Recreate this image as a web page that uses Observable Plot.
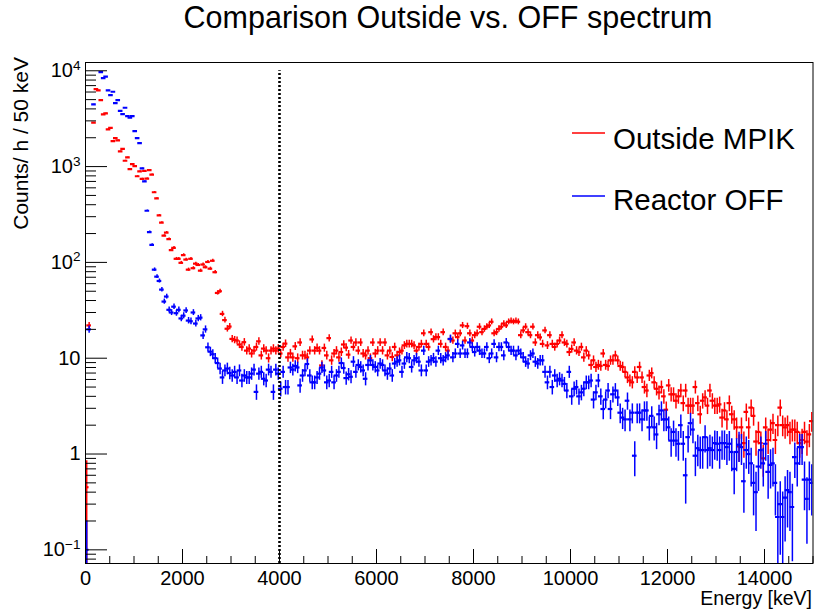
<!DOCTYPE html>
<html><head><meta charset="utf-8">
<script src="https://cdn.jsdelivr.net/npm/d3@7"></script>
<script src="https://cdn.jsdelivr.net/npm/@observablehq/plot@0.6"></script>
<style>
body{margin:0;background:#fff;}
#chart{position:relative;width:815px;height:611px;}
</style>
</head><body><div id="chart"></div>
<script>
// ---- data (counts per hour per 50 keV bin, bin i covers [50*i, 50*i+50) keV) ----
const binWidth = 50;
const outsideMPIK = [
0.45, 22, null, 2870, 6420, 6230, 4930, 3500, 3600, 2450,
2530, 1840, 1980, 1880, 1440, 1530, 1150, 1250, 940, 1060,
1010, 793, 890, 745, 900, 750, 920, 825, 540, 465,
310, 260, 190, 205, 175, 134, 142, 109, 109, 99,
119, 107, 84, 109, 87, 97, 94, 82, 95, 89,
101, 86, 104, 79, 48, 50, 29, 25, 20.3, 21.4,
15.9, 15.5, 15.3, 13.9, 13.1, 14.7, 12.0, 12.6, 11.2, 12.0,
13.1, 15.0, 10.7, 12.6, 12.0, 10.0, 12.0, 12.6, 12.0, 12.6,
11.2, 13.1, 14.2, 10.2, 11.2, 10.2, 13.3, 10.0, 14.6, 10.7,
10.7, 10.2, 12.0, 15.7, 12.0, 12.8, 12.0, 8.4, 12.8, 10.7,
16.2, 9.5, 11.2, 12.0, 10.2, 11.6, 13.9, 12.9, 10.9, 15.3,
13.1, 14.6, 12.0, 14.6, 11.2, 10.7, 12.0, 10.0, 14.6, 11.2,
12.0, 14.6, 12.0, 14.6, 10.7, 12.0, 10.3, 13.1, 10.7, 11.6,
12.0, 13.6, 14.1, 14.1, 14.1, 13.6, 12.0, 13.1, 14.1, 18.2,
14.1, 13.1, 18.7, 15.8, 16.6, 16.6, 14.1, 18.7, 13.1, 12.0,
15.8, 15.3, 18.2, 16.6, 18.2, 22.0, 15.3, 21.6, 18.2, 15.3,
17.4, 18.2, 21.3, 18.7, 20.2, 21.3, 22.0, 24.0, 18.2, 18.7,
20.2, 21.3, 23.0, 22.0, 24.0, 24.5, 24.0, 24.5, 24.0, 17.4,
19.5, 21.3, 18.7, 17.4, 21.3, 14.6, 17.4, 16.5, 14.1, 19.5,
13.6, 17.4, 14.1, 13.1, 14.1, 15.3, 17.4, 14.6, 14.1, 11.6,
12.5, 14.6, 12.0, 11.6, 13.1, 10.2, 12.0, 10.7, 8.5, 9.5,
8.1, 8.5, 8.3, 11.2, 8.5, 8.3, 9.5, 9.5, 10.7, 9.5,
8.3, 8.1, 7.2, 6.3, 5.85, 5.6, 7.2, 6.3, 8.1, 6.3,
5.0, 4.6, 6.6, 7.0, 5.6, 4.8, 4.4, 5.0, 4.0, 2.9,
5.2, 4.2, 4.2, 3.6, 4.0, 4.6, 3.4, 4.6, 3.2, 3.2,
3.2, 5.0, 3.4, 2.6, 3.6, 3.9, 3.2, 4.6, 3.6, 3.2,
3.2, 3.3, 2.4, 2.85, 2.3, 3.4, 2.6, 2.3, 1.9, 1.2,
1.9, 1.3, 2.75, 1.9, 3.05, 2.5, 1.35, 1.7, 1.3, 0.9,
1.9, 1.4, 1.8, 2.1, 1.4, 2.0, 3.05, 2.0, 1.9, 2.0,
1.7, 1.8, 1.8, 1.7, 1.3, 1.4, 1.7, 1.35, 1.6, 2.2
];
const reactorOFF = [
0.1, 20, null, 4450, null, null, 9660, 8370, 8700, 6230,
5560, 6040, 4590, 4930, 3820, 3520, 4110, 3360, 3250, 3360,
2340, 1980, 1760, 957, 700, 346, 207, 152, 84, 71,
64, 52, 39, 44, 32, 30, 34.5, 29.5, 32, 26,
27.8, 31.5, 24.7, 24.3, 30, 23, 26, 26.5, 17.3, 20,
13, 11.7, 11, 10, 8.9, 7.8, 6.3, 7.45, 7.8, 7.0,
6.6, 7.2, 6.3, 7.45, 5.85, 6.6, 6.3, 6.3, 6.9, 7.6,
4.45, 6.9, 7.2, 6.1, 5.85, 7.6, 7.2, 4.45, 7.6, 6.9,
4.8, 7.2, 5.0, 5.0, 8.0, 7.6, 8.3, 8.0, 5.2, 6.6,
7.45, 8.7, 6.6, 5.6, 5.6, 6.3, 6.9, 8.0, 7.45, 5.6,
5.85, 7.2, 5.6, 6.6, 7.2, 8.9, 7.9, 6.2, 6.8, 6.4,
9.2, 7.2, 8.5, 8.1, 7.45, 6.1, 8.5, 9.5, 8.5, 8.1,
7.45, 8.8, 8.5, 7.45, 6.9, 7.8, 6.6, 8.8, 9.2, 9.5,
7.2, 8.8, 10.2, 10.0, 8.1, 9.5, 10.0, 9.2, 7.45, 12.0,
7.45, 9.2, 9.5, 10.0, 9.2, 12.0, 10.0, 9.5, 10.2, 10.7,
15.9, 10.2, 11.2, 14.1, 11.2, 13.6, 11.2, 11.2, 14.6, 13.1,
11.6, 13.1, 12.0, 11.2, 11.2, 13.1, 10.0, 11.2, 14.1, 10.2,
13.1, 13.1, 10.7, 14.6, 13.1, 12.0, 12.0, 10.7, 12.0, 11.2,
10.2, 9.2, 8.8, 10.7, 11.2, 9.2, 8.8, 9.5, 9.5, 7.2,
5.6, 7.2, 5.0, 6.6, 5.85, 6.1, 5.85, 5.4, 4.6, 7.2,
4.0, 4.8, 5.0, 4.0, 4.4, 4.8, 5.6, 5.6, 5.85, 3.7,
4.4, 5.85, 4.0, 2.95, 3.7, 4.6, 2.95, 4.2, 4.6, 3.9,
2.7, 2.4, 2.3, 3.6, 2.3, 2.7, 0.96, 2.7, 2.7, 2.3,
2.85, 2.85, 1.9, 2.5, 1.9, 1.6, 2.6, 2.85, 2.3, 2.3,
1.9, 1.38, 1.7, 1.38, 1.28, 2.0, 1.28, 0.6, 1.5, 2.1,
1.8, 0.96, 1.15, 1.1, 1.1, 1.5, 1.1, 1.15, 1.1, 1.3,
1.28, 1.1, 1.3, 1.3, 1.18, 1.28, 1.05, 0.7, 1.05, 1.25,
1.18, 0.52, 1.1, 1.0, 0.8, 0.5, 0.4, 0.74, 1.1, 0.8,
1.28, 0.65, 0.77, 0.8, 0.5, 0.22, 0.3, 0.22, 0.35, 0.42,
0.4, 0.28, 0.93, 0.8, 1.18, 1.18, 0.54, 0.34, 0.54, 0.5
];
// Poisson-like error scale (err = sqrt(value * scale)), first bin read directly
const errorScale = {outside: 0.12, off: 0.15};
const firstBinError = {outside: 0.4, off: 0.1};
const seriesNames = ["Outside MPIK", "Reactor OFF"];
const seriesColors = ["#ff0000", "#0000ff"];
const cutEnergy = 4000;       // dotted line position (keV)
const cutTop = 1e4;           // dotted line top (counts)
const xDomain = [0, 15000];
const yDomain = [0.072, 12200];
const xTicks = [0, 2000, 4000, 6000, 8000, 10000, 12000, 14000];
const yTicks = [0.1, 1, 10, 100, 1000, 10000];
const yTickBase = ["10", "1", "10", "10", "10", "10"];
const yTickExp = ["\u22121", "", "", "2", "3", "4"];
const titleText = "Comparison Outside vs. OFF spectrum";
const xLabel = "Energy [keV]";
const yLabel = "Counts/ h / 50 keV";

// ---- layout ----
const W = 815, H = 611, mL = 85, mR = 2.5, mT = 62, mB = 48;
const frameW = W - mL - mR, frameH = H - mT - mB;
const font = "'Liberation Sans', Arial, Helvetica, sans-serif";

function rows(counts, key) {
  const out = [];
  counts.forEach((v, i) => {
    if (v == null) return;
    const err = i === 0 ? firstBinError[key] : Math.sqrt(v * errorScale[key]);
    out.push({lo: i * binWidth, hi: (i + 1) * binWidth, x: (i + 0.5) * binWidth,
      v, y1: Math.max(v - err, 1e-4), y2: v + err});
  });
  return out;
}
const red = rows(outsideMPIK, "outside");
const blue = rows(reactorOFF, "off");

const xMinor = d3.range(xDomain[0], xDomain[1] + 1, 500).filter(d => !xTicks.includes(d));
const yMinor = [];
for (let e = -2; e <= 4; e++) for (let m = 2; m <= 9; m++) {
  const v = m * Math.pow(10, e);
  if (v > yDomain[0] && v < yDomain[1]) yMinor.push(v);
}

function histMarks(data, color) {
  return [
    Plot.ruleX(data, {x: "x", y1: "y1", y2: "y2", stroke: color, strokeWidth: 1.5, clip: true}),
    Plot.ruleY(data, {y: "v", x1: "lo", x2: "hi", stroke: color, strokeWidth: 2.2, strokeLinecap: "square", clip: true})
  ];
}

const chart = Plot.plot({
  width: W, height: H,
  marginLeft: mL, marginRight: mR, marginTop: mT, marginBottom: mB,
  style: {fontFamily: font, background: "white", color: "black"},
  x: {domain: xDomain},
  y: {type: "log", domain: yDomain},
  marks: [
    ...histMarks(red, seriesColors[0]),
    ...histMarks(blue, seriesColors[1]),
    Plot.ruleX([cutEnergy], {x: d => d, y1: yDomain[0], y2: cutTop, stroke: "black", strokeWidth: 2.6, strokeDasharray: "2,2"}),
    Plot.tickY(yTicks, {y: d => d, insetRight: frameW - 22, stroke: "black"}),
    Plot.tickY(yMinor, {y: d => d, insetRight: frameW - 11, stroke: "black"}),
    Plot.tickX(xTicks, {x: d => d, insetTop: frameH - 14, stroke: "black"}),
    Plot.tickX(xMinor, {x: d => d, insetTop: frameH - 7, stroke: "black"}),
    Plot.axisY({ticks: yTicks, tickSize: 0, tickPadding: 5, fontSize: 20, label: null,
      tickFormat: d => { const k = yTicks.indexOf(d); return yTickBase[k] + (yTickExp[k] ? "^" + yTickExp[k] : ""); }}),
    Plot.axisX({ticks: xTicks, tickSize: 0, tickPadding: 7, fontSize: 20, label: null, tickFormat: "d"}),
    Plot.frame({stroke: "black"})
  ]
});
document.getElementById("chart").appendChild(chart);

const svg = d3.select(chart);
// superscript exponents on the log-axis labels
svg.selectAll("text").each(function() {
  const t = d3.select(this);
  if (this.childElementCount === 0 && this.textContent.includes("^")) {
    const [base, exp] = this.textContent.split("^");
    t.text(base);
    t.append("tspan").attr("dy", "-0.55em").attr("font-size", "0.68em").text(exp);
  }
});
svg.append("text").attr("x", 448).attr("y", 28).attr("text-anchor", "middle")
  .attr("font-family", font).attr("font-size", 30.5).attr("fill", "black").text(titleText);
svg.append("text").attr("x", 812).attr("y", 605).attr("text-anchor", "end")
  .attr("font-family", font).attr("font-size", 19.5).attr("fill", "black").text(xLabel);
svg.append("text").attr("transform", "translate(28,57) rotate(-90)").attr("text-anchor", "end")
  .attr("font-family", font).attr("font-size", 21).attr("fill", "black").text(yLabel);
// legend
const legendY = [133, 196], legendTextY = [149, 210];
seriesNames.forEach((name, k) => {
  svg.append("line").attr("x1", 572).attr("x2", 605).attr("y1", legendY[k]).attr("y2", legendY[k])
    .attr("stroke", seriesColors[k]).attr("stroke-width", 1.5);
  svg.append("text").attr("x", 613).attr("y", legendTextY[k]).attr("text-anchor", "start")
    .attr("font-family", font).attr("font-size", 29.5).attr("fill", "black").text(name);
});
</script>
</body></html>
